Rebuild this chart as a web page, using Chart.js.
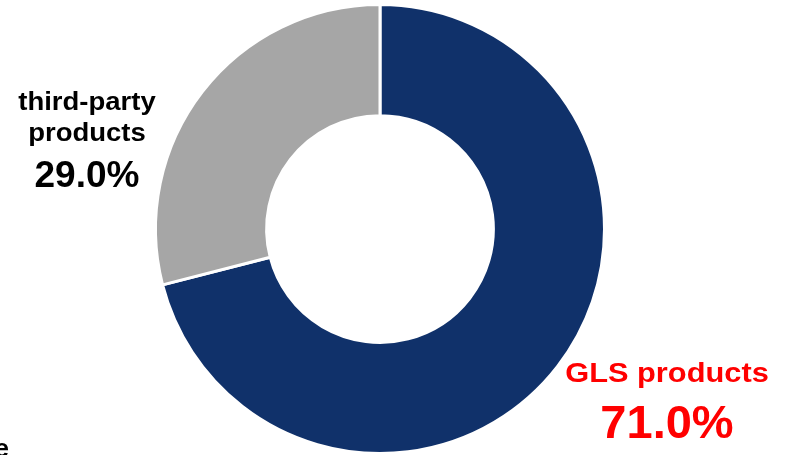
<!DOCTYPE html>
<html>
<head>
<meta charset="utf-8">
<script src="https://cdn.jsdelivr.net/npm/chart.js@4"></script>
<style>
  html, body { margin: 0; padding: 0; background: #ffffff; }
  #wrap { width: 792px; height: 455px; position: relative; }
</style>
</head>
<body>
<div id="wrap"><canvas id="shareChart" width="792" height="455"></canvas></div>
<script>
// product mix shares (%)
const categories = ['GLS products', 'third-party products'];
const labelLines = [['GLS products'], ['third-party', 'products']];
const shares = [71.0, 29.0];
const sliceColors = ['#10316a', '#a6a6a6'];
const labelColors = ['#ff0000', '#000000'];

const FONT = '"Liberation Sans", Arial, Helvetica, sans-serif';

// labels sit outside the ring, one block per slice
const labelBlocks = [
  { x: 667, lineY: [382], lineSize: 28, valueY: 438, valueSize: 47 },
  { x: 87, lineY: [110, 141], lineSize: 25, valueY: 187, valueSize: 37 }
];
const wordStretch = 1.1;

function stretchedText(ctx, text, x, y, sx) {
  ctx.save();
  ctx.translate(x, y);
  ctx.scale(sx, 1);
  ctx.fillText(text, 0, 0);
  ctx.restore();
}

const outsideLabels = {
  id: 'outsideLabels',
  afterDraw(chart) {
    const ctx = chart.ctx;
    ctx.save();
    ctx.textAlign = 'center';
    ctx.textBaseline = 'alphabetic';
    labelBlocks.forEach((b, i) => {
      ctx.fillStyle = labelColors[i];
      ctx.font = 'bold ' + b.lineSize + 'px ' + FONT;
      labelLines[i].forEach((t, j) => stretchedText(ctx, t, b.x, b.lineY[j], wordStretch));
      ctx.font = 'bold ' + b.valueSize + 'px ' + FONT;
      ctx.fillText(shares[i].toFixed(1) + '%', b.x, b.valueY);
    });
    // clipped caption fragment at the lower left edge
    ctx.fillStyle = '#000000';
    ctx.textAlign = 'right';
    ctx.font = 'bold 26px ' + FONT;
    ctx.fillText('e', 9, 457);
    ctx.restore();
  }
};

new Chart(document.getElementById('shareChart'), {
  type: 'doughnut',
  data: {
    labels: categories,
    datasets: [{
      data: shares,
      backgroundColor: sliceColors,
      borderColor: '#ffffff',
      borderWidth: 3
    }]
  },
  options: {
    responsive: false,
    animation: false,
    cutout: '50.5%',
    layout: { padding: { top: 3, bottom: 0, left: 154, right: 186 } },
    plugins: {
      legend: { display: false },
      tooltip: { enabled: false }
    }
  },
  plugins: [outsideLabels]
});
</script>
</body>
</html>
